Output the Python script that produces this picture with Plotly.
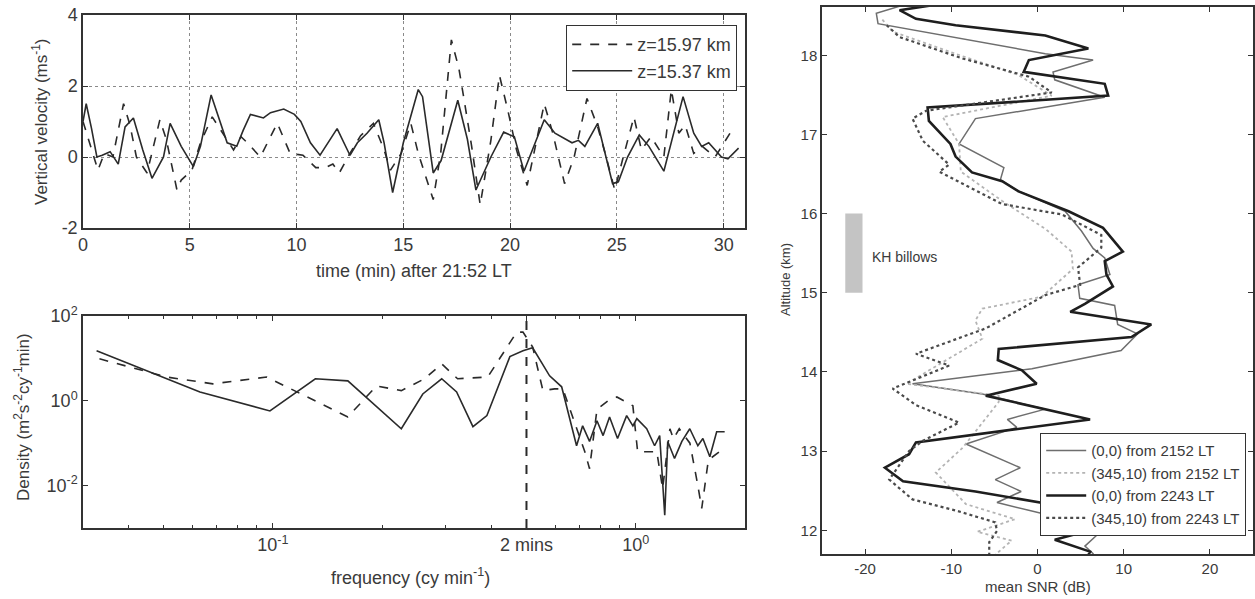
import math
import plotly.graph_objects as go

# ---------------- Top-left: vertical velocity time series ----------------
time_1597 = [0.0, 0.2, 0.7, 1.0, 1.4, 1.9, 2.2, 2.5, 3.0, 3.6, 3.9, 4.4, 4.6, 5.1, 5.5, 6.05,
             6.6, 7.05, 7.4, 7.7, 8.3, 9.1, 9.7, 10.3, 10.9, 11.35, 11.7, 12.0, 12.5, 13.0,
             13.6, 14.1, 14.4, 14.9, 15.35, 15.7, 16.4, 16.75, 17.25, 17.6, 17.85, 18.2,
             18.6, 19.1, 19.5, 19.9, 20.3, 20.8, 21.6, 22.0, 22.55, 23.0, 23.6, 24.1, 24.5,
             24.9, 25.3, 25.8, 26.15, 26.6, 27.2, 27.55, 27.9, 28.2, 28.6, 29.0, 29.6, 30.3]
w_1597 = [1.0, 0.6, -0.37, 0.1, 0.0, 1.5, 0.9, 0.0, -0.45, 1.05, 0.5, -0.93, -0.65, -0.37, 0.4,
          1.13, 0.6, 0.2, 0.57, 0.4, 0.0, 0.95, 0.1, 0.05, -0.3, -0.3, -0.2, -0.45, 0.1, 0.6,
          0.95, 0.2, -0.37, 0.1, 0.95, 0.1, -1.2, 0.1, 3.3, 2.5, 1.6, 0.3, -1.35, 0.47, 2.3,
          1.3, 0.2, -0.8, 1.5, 0.67, -0.75, 0.0, 1.65, 0.85, 0.0, -0.93, 0.0, 1.13, 0.2, 0.57,
          0.0, 1.9, 0.67, 0.9, 0.1, 0.3, 0.0, 0.67]

time_1537 = [0.0, 0.15, 0.4, 0.65, 0.9, 1.27, 1.65, 1.97, 2.36, 2.8, 3.23, 3.77, 4.08, 4.6,
             5.17, 5.5, 6.0, 6.5, 6.75, 7.2, 7.5, 7.84, 8.45, 8.78, 9.4, 9.9, 10.2, 10.65,
             11.1, 11.9, 12.5, 12.85, 13.3, 13.85, 14.1, 14.5, 15.0, 15.7, 15.9, 16.4, 16.77,
             17.55, 18.0, 18.4, 19.1, 19.7, 20.2, 20.65, 21.6, 22.1, 22.9, 23.2, 23.5, 24.1,
             24.8, 25.07, 25.5, 26.05, 26.5, 27.2, 28.1, 28.6, 28.97, 29.3, 29.9, 30.2, 30.7]
w_1537 = [1.0, 1.5, 0.8, 0.0, 0.05, 0.15, -0.2, 0.85, 1.1, 0.2, -0.6, 0.0, 0.95, 0.3, -0.27,
          0.3, 1.75, 0.85, 0.4, 0.3, 0.75, 1.2, 1.1, 1.25, 1.35, 1.2, 1.0, 0.4, 0.05, 0.8,
          0.05, 0.4, 0.67, 1.05, 0.4, -1.0, 0.4, 1.9, 1.7, -0.45, -0.1, 1.6, 0.5, -0.93, 0.0,
          0.7, 0.57, -0.4, 1.05, 0.67, 0.4, 0.47, 0.3, 0.95, -0.75, -0.7, 0.0, 0.62, 0.3,
          -0.4, 1.7, 0.67, 0.3, 0.4, 0.0, -0.05, 0.25]
time_ticks = [0, 5, 10, 15, 20, 25, 30]
w_ticks = [-2, 0, 2, 4]
w_tick_text = ["-2", "0", "2", "4"]

# ---------------- Bottom-left: spectra ----------------
freq_1597 = [0.0333, 0.0511, 0.0684, 0.0962, 0.161, 0.193, 0.226, 0.262, 0.292, 0.323, 0.391,
             0.470, 0.489, 0.520, 0.555, 0.598, 0.630, 0.724, 0.746, 0.782, 0.838, 0.887,
             0.982, 1.012, 1.143, 1.186, 1.242, 1.27, 1.318, 1.41, 1.483, 1.52, 1.585, 1.70,
             1.758]
dens_1597 = [9.77, 3.63, 2.51, 3.63, 0.417, 2.24, 1.74, 3.31, 7.41, 3.31, 3.63,
             41.7, 41.7, 18.6, 1.74, 1.91, 1.9, 0.063, 0.025, 0.63, 1.0, 1.23,
             0.76, 0.063, 0.063, 0.0085, 0.219, 0.126, 0.219, 0.1, 0.01, 0.0029, 0.04, 0.063,
             0.05]
freq_1537 = [0.0327, 0.0630, 0.0982, 0.131, 0.161, 0.226, 0.259, 0.292, 0.321, 0.356, 0.389,
             0.450, 0.489, 0.520, 0.579, 0.625, 0.687, 0.714, 0.746, 0.782, 0.813, 0.847,
             0.891, 0.944, 0.982, 1.007, 1.072, 1.127, 1.164, 1.202, 1.225, 1.279, 1.340,
             1.409, 1.483, 1.531, 1.600, 1.671, 1.758]
dens_1537 = [15.1, 1.62, 0.575, 3.31, 2.95, 0.219, 1.45, 3.31, 1.62, 0.245, 0.447,
             11.0, 15.1, 17.8, 3.89, 2.14, 0.087, 0.257, 0.110, 0.339, 0.151, 0.417,
             0.129, 0.447, 0.257, 0.380, 0.219, 0.087, 0.151, 0.0020, 0.110, 0.0437, 0.110,
             0.219, 0.087, 0.129, 0.048, 0.186, 0.186]
freq_tick_vals = [0.1, 0.5, 1.0]
freq_tick_text = ["10<sup>-1</sup>", "2 mins", "10<sup>0</sup>"]
freq_minor = [0.04, 0.05, 0.06, 0.07, 0.08, 0.09, 0.2, 0.3, 0.4, 0.6, 0.7, 0.8, 0.9]
dens_tick_vals = [0.01, 1, 100]
dens_tick_text = ["10<sup>-2</sup>", "10<sup>0</sup>", "10<sup>2</sup>"]
period_marker = 0.5

# ---------------- Right: mean SNR profiles ----------------
alt_a = [18.62, 18.53, 18.40, 18.02, 17.94, 17.79, 17.69, 17.47, 17.20, 16.88, 16.58, 16.43,
         16.30, 16.03, 15.78, 15.56, 15.44, 15.23, 15.10, 14.93, 14.84, 14.60, 14.48, 14.27,
         14.04, 13.85, 13.72, 13.53, 13.40, 13.30, 13.09, 12.79, 12.64, 12.49, 12.35, 12.12,
         11.95, 11.80, 11.70]
snr_a = [-16.0, -18.7, -18.5, 0.9, 6.45, 1.8, 2.0, 7.8, -7.2, -9.1, -3.9, -4.3,
         -2.5, 3.2, 5.1, 6.45, 7.8, 8.4, 4.7, 4.9, 8.95, 9.3, 11.6, 9.7,
         -0.65, -14.5, -6.4, 0.9, -3.5, -2.4, -8.3, -2.0, -4.9, -1.9, -4.7, 4.0,
         7.0, 5.5, 6.5]

alt_b = [18.45, 18.30, 18.00, 17.75, 17.49, 17.22, 16.88, 16.53, 16.16, 15.80, 15.52, 15.30,
         14.95, 14.80, 14.65, 14.42, 13.85, 13.70, 13.62, 13.24, 13.04, 12.73, 12.33, 12.14,
         11.98, 11.87, 11.69]
snr_b = [-18.0, -16.8, -9.0, -2.2, 1.65, -11.0, -9.1, -8.9, -4.1, 1.0, 3.95, 4.1,
         0.5, -6.4, -7.2, -6.4, -15.2, -4.5, -4.5, -7.2, -8.7, -11.8, -8.3, -2.6,
         -7.0, -3.0, -4.9]

alt_c = [18.66, 18.57, 18.46, 18.38, 18.25, 18.085, 17.94, 17.79, 17.64, 17.49, 17.34, 17.17,
         16.88, 16.72, 16.52, 16.41, 16.28, 16.03, 15.82, 15.52, 15.40, 15.23, 15.08, 14.86,
         14.76, 14.60, 14.44, 14.29, 14.15, 14.02, 13.85, 13.70, 13.40, 13.11, 12.96, 12.79,
         12.62, 12.49, 12.30, 12.05, 11.88, 11.73, 11.60]
snr_c = [-10.5, -16.0, -14.1, -9.5, 0.9, 5.9, -1.0, -1.6, 7.8, 8.2, -12.75, -12.6,
         -10.1, -9.5, -7.6, -4.1, -2.2, 3.6, 7.6, 9.9, 7.8, 8.0, 8.75, 5.5,
         3.8, 13.2, 10.9, -4.5, -4.6, -1.8, -0.1, -6.0, 6.1, -14.1, -14.9, -17.7,
         -15.6, -7.2, 3.0, 7.8, 2.0, 6.1, 5.5]

alt_d = [18.38, 18.23, 17.96, 17.73, 17.53, 17.30, 17.20, 16.92, 16.62, 16.53, 16.12, 15.99,
         15.73, 15.57, 15.32, 15.10, 14.97, 14.55, 14.23, 14.08, 13.79, 13.58, 13.36, 13.13,
         13.00, 12.64, 12.39, 12.25, 12.10, 11.99, 11.85, 11.70]
snr_d = [-17.5, -16.0, -8.7, -1.0, 1.65, -12.9, -14.5, -13.3, -10.25, -11.4, -4.1, 2.8,
         7.4, 7.4, 4.7, 4.95, 0.9, -6.0, -14.1, -10.25, -16.8, -14.1, -9.1, -13.3,
         -14.9, -17.2, -14.5, -9.5, -4.9, -4.7, -5.6, -5.6]
snr_ticks = [-20, -10, 0, 10, 20]
snr_tick_text = ["-20", "-10", "0", "10", "20"]
alt_ticks = [12, 13, 14, 15, 16, 17, 18]
kh_band = [15.0, 16.0]

TXT = "#3a3a3a"
AX = "#333333"
FONT = "Liberation Sans, Arial, sans-serif"
W, H = 1255, 599

fig = go.Figure()

# top-left
fig.add_trace(go.Scatter(x=time_1597, y=w_1597, mode="lines", name="z=15.97 km",
                         line=dict(color="#2a2a2a", width=1.6, dash="dash"),
                         xaxis="x", yaxis="y", legend="legend"))
fig.add_trace(go.Scatter(x=time_1537, y=w_1537, mode="lines", name="z=15.37 km",
                         line=dict(color="#2a2a2a", width=1.6),
                         xaxis="x", yaxis="y", legend="legend"))
# bottom-left
fig.add_trace(go.Scatter(x=freq_1597, y=dens_1597, mode="lines", showlegend=False,
                         line=dict(color="#2a2a2a", width=1.6, dash="dash"),
                         xaxis="x2", yaxis="y2"))
fig.add_trace(go.Scatter(x=freq_1537, y=dens_1537, mode="lines", showlegend=False,
                         line=dict(color="#2a2a2a", width=1.6),
                         xaxis="x2", yaxis="y2"))
# right
fig.add_trace(go.Scatter(x=snr_a, y=alt_a, mode="lines", name="(0,0) from 2152 LT",
                         line=dict(color="#6e6e6e", width=1.5),
                         xaxis="x3", yaxis="y3", legend="legend2"))
fig.add_trace(go.Scatter(x=snr_b, y=alt_b, mode="lines", name="(345,10) from 2152 LT",
                         line=dict(color="#b4b4b4", width=1.8, dash="dot"),
                         xaxis="x3", yaxis="y3", legend="legend2"))
fig.add_trace(go.Scatter(x=snr_c, y=alt_c, mode="lines", name="(0,0) from 2243 LT",
                         line=dict(color="#1e1e1e", width=2.6),
                         xaxis="x3", yaxis="y3", legend="legend2"))
fig.add_trace(go.Scatter(x=snr_d, y=alt_d, mode="lines", name="(345,10) from 2243 LT",
                         line=dict(color="#4a4a4a", width=2.2, dash="dot"),
                         xaxis="x3", yaxis="y3", legend="legend2"))

# 2-minute period marker
fig.add_shape(type="line", xref="x2", yref="y2 domain", x0=period_marker, x1=period_marker,
              y0=0, y1=1, line=dict(color="#2a2a2a", width=2, dash="dash"))
# KH billows band
fig.add_shape(type="rect", xref="x3", yref="y3", x0=-22.3, x1=-20.3, y0=kh_band[0], y1=kh_band[1],
              fillcolor="#c4c4c4", line=dict(width=0), layer="below")
fig.add_annotation(x=-19.4, y=15.45, xref="x3", yref="y3", text="KH billows", showarrow=False,
                   xanchor="left", font=dict(size=14, color=TXT, family=FONT))


def title_ann(text, px, py, size, angle=0):
    fig.add_annotation(x=px / W, y=1 - py / H, xref="paper", yref="paper", text=text,
                       showarrow=False, textangle=angle, xanchor="center", yanchor="middle",
                       font=dict(size=size, color=TXT, family=FONT))


title_ann("time (min) after 21:52 LT", 414, 271, 18)
title_ann("Vertical velocity (ms<sup>-1</sup>)", 40, 122, 17, -90)
title_ann("frequency (cy min<sup>-1</sup>)", 410, 576, 18)
title_ann("Density (m<sup>2</sup>s<sup>-2</sup>cy<sup>-1</sup>min)", 22, 417, 17, -90)
title_ann("mean SNR (dB)", 1038, 586, 15)
title_ann("Altitude (km)", 785, 280, 13, -90)

common = dict(showline=True, linecolor=AX, linewidth=1.5, mirror="ticks", ticks="inside",
              ticklen=5, tickcolor=AX, zeroline=False, automargin=False)

X1 = [83 / W, 745 / W]
fig.update_layout(
    width=W, height=H, margin=dict(l=0, r=0, t=0, b=0),
    paper_bgcolor="white", plot_bgcolor="white",
    font=dict(family=FONT, color=TXT),
    xaxis=dict(domain=X1, anchor="y", range=[0, 31], tickmode="array", tickvals=time_ticks,
               showgrid=True, gridcolor="#8a8a8a", griddash="dot", gridwidth=1.2,
               tickfont=dict(size=18), **common),
    yaxis=dict(domain=[1 - 228 / H, 1 - 15 / H], anchor="x", range=[-2, 4],
               tickmode="array", tickvals=w_ticks, ticktext=w_tick_text, showgrid=True,
               gridcolor="#8a8a8a", griddash="dot", gridwidth=1.2, tickfont=dict(size=18),
               **common),
    xaxis2=dict(domain=X1, anchor="y2", type="log",
                range=[math.log10(0.03), math.log10(2.0)], tickmode="array",
                tickvals=freq_tick_vals, ticktext=freq_tick_text, showgrid=False,
                minor=dict(tickmode="array", tickvals=freq_minor, ticks="inside", ticklen=3,
                           tickcolor=AX, showgrid=False),
                tickfont=dict(size=18), **common),
    yaxis2=dict(domain=[1 - 528 / H, 1 - 316 / H], anchor="x2", type="log",
                range=[-3, 2], tickmode="array", tickvals=dens_tick_vals,
                ticktext=dens_tick_text, showgrid=False, tickfont=dict(size=18), **common),
    xaxis3=dict(domain=[822 / W, 1253 / W], anchor="y3", range=[-25, 25],
                tickmode="array", tickvals=snr_ticks, ticktext=snr_tick_text, showgrid=False,
                tickfont=dict(size=15), **common),
    yaxis3=dict(domain=[1 - 554 / H, 1 - 7 / H], anchor="x3", range=[11.7, 18.61],
                tickmode="array", tickvals=alt_ticks, showgrid=False, tickfont=dict(size=15),
                **common),
    legend=dict(x=737 / W, y=1 - 25 / H, xanchor="right", yanchor="top",
                bgcolor="white", bordercolor=AX, borderwidth=1.2,
                font=dict(size=18, color=TXT), itemwidth=60, tracegroupgap=0),
    legend2=dict(x=1246 / W, y=1 - 433 / H, xanchor="right", yanchor="top",
                 bgcolor="white", bordercolor=AX, borderwidth=1.2,
                 font=dict(size=15, color=TXT), itemwidth=40, tracegroupgap=0),
)

fig.write_html("out.html", config={"displayModeBar": False},
               post_script="document.body.style.margin='0px';"
                           "document.body.style.overflow='hidden';")
